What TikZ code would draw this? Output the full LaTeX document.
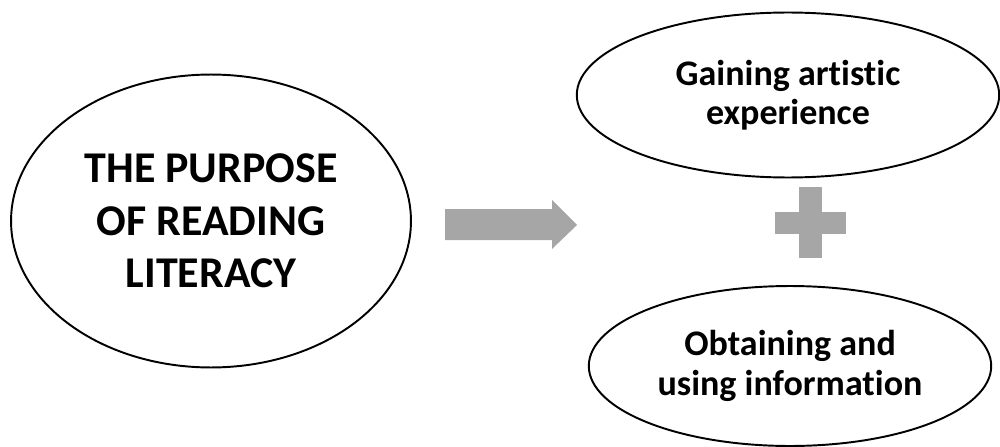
\documentclass[tikz,border=0pt]{standalone}
\usepackage{fontspec}
\setmainfont{Carlito}[Ligatures=NoCommon]
\usetikzlibrary{shapes.geometric,positioning}
\definecolor{arrowgray}{HTML}{A6A6A6}
\begin{document}
\begin{tikzpicture}[x=0.02cm,y=-0.02cm,
every node/.style={ellipse,draw,line width=1.1pt,inner sep=0pt,align=center,font=\bfseries}]
\useasboundingbox (0,0) rectangle (1000,446);
\node[minimum width=8cm,minimum height=5.86cm,font=\bfseries\fontsize{25}{30}\selectfont] (purpose) at (211,221) {THE PURPOSE\\OF READING\\LITERACY};
\node[minimum width=8.45cm,minimum height=3.3cm,font=\bfseries\fontsize{20.5}{22.5}\selectfont] (artistic) at (788,95) {Gaining artistic\\experience};
\node[minimum width=8.05cm,minimum height=3.2cm,font=\bfseries\fontsize{20.5}{22.5}\selectfont] (information) at (790,366) {Obtaining and\\using information};
% arrow and plus
\fill[arrowgray] (445,209) -- (552,209) -- (552,200) -- (577,225) -- (552,249) -- (552,240) -- (445,240) -- cycle;
\fill[arrowgray] (799,187) rectangle (822,258);
\fill[arrowgray] (775,212) rectangle (846,234);
\end{tikzpicture}
\end{document}
